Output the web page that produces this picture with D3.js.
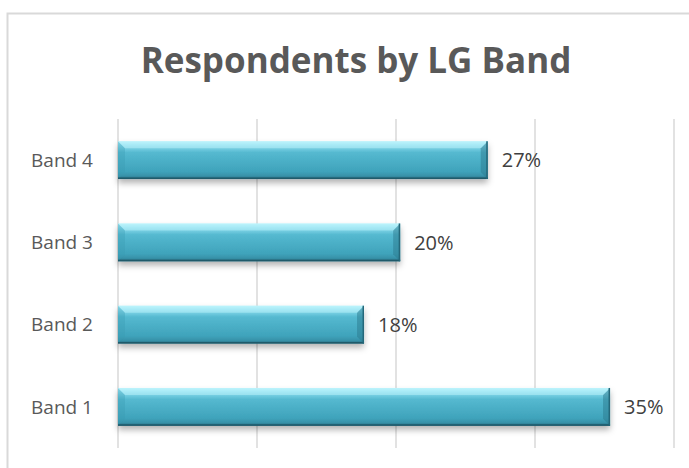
<!DOCTYPE html>
<head>
  <meta charset="utf-8">
  <script src="https://d3js.org/d3.v7.min.js"></script>
  <style>
    body { margin: 0; background: #fff; }
    svg { width: 689px; height: 468px; display: block; }
  </style>
</head>

<body>
  <svg></svg>

  <script>
    // data
    const bands = ['Band 4', 'Band 3', 'Band 2', 'Band 1'];
    const shares = [26.6, 20.3, 17.7, 35.4];
    const labels = ['27%', '20%', '18%', '35%'];
    const gridTicks = [0, 10, 20, 30, 40];

    const rows = bands.map((b, i) => ({ band: b, value: shares[i], label: labels[i] }));

    const svg = d3.select('svg');
    const font = '"Open Sans", Lato, sans-serif';

    // outer frame, cut off at right and bottom like the reference
    svg.append('rect')
      .attr('x', 7.5).attr('y', 13.5)
      .attr('width', 720).attr('height', 500)
      .attr('fill', '#fff')
      .attr('stroke', '#d9d9d9')
      .attr('stroke-width', 2);

    const x = d3.scaleLinear().domain([0, 40]).range([118, 674]);
    const y = d3.scaleBand().domain(bands).range([119, 448]).paddingInner(0.54).paddingOuter(0.27);

    // defs: bar gradient + shadow
    const defs = svg.append('defs');
    const grad = defs.append('linearGradient')
      .attr('id', 'barGrad').attr('x1', 0).attr('y1', 0).attr('x2', 0).attr('y2', 1);
    [[0, '#b6f2fb'], [0.1, '#8fdff0'], [0.3, '#55b9d0'], [0.8, '#3fa3bb'], [0.92, '#3791a8'], [1, '#26677a']]
      .forEach(s => grad.append('stop').attr('offset', s[0]).attr('stop-color', s[1]));

    const shadow = defs.append('filter').attr('id', 'shadow')
      .attr('x', '-5%').attr('y', '-20%').attr('width', '110%').attr('height', '170%');
    shadow.append('feDropShadow')
      .attr('dx', 0).attr('dy', 4).attr('stdDeviation', 3)
      .attr('flood-color', '#000').attr('flood-opacity', 0.3);

    // gridlines
    svg.append('g').selectAll('line')
      .data(gridTicks)
      .join('line')
      .attr('x1', d => x(d)).attr('x2', d => x(d))
      .attr('y1', 119).attr('y2', 448)
      .attr('stroke', '#d9d9d9')
      .attr('stroke-width', 1.5);

    // bars
    const bar = svg.append('g').selectAll('g')
      .data(rows)
      .join('g')
      .attr('transform', d => `translate(0,${y(d.band)})`);

    const bh = y.bandwidth();
    const bev = 7;

    bar.append('rect')
      .attr('x', x(0)).attr('y', 0)
      .attr('width', d => x(d.value) - x(0))
      .attr('height', bh)
      .attr('fill', 'url(#barGrad)')
      .attr('filter', 'url(#shadow)');

    // bevel faces: left, right, top
    bar.append('path')
      .attr('d', `M${x(0)},0 L${x(0) + bev},${bev} L${x(0) + bev},${bh - bev} L${x(0)},${bh} Z`)
      .attr('fill', '#3a9ab2').attr('opacity', 0.35);
    bar.append('path')
      .attr('d', d => {
        const r = x(d.value);
        return `M${r},0 L${r - bev},${bev} L${r - bev},${bh - bev} L${r},${bh} Z`;
      })
      .attr('fill', '#2b7a8e').attr('opacity', 0.5);
    bar.append('path')
      .attr('d', d => `M${x(0)},0 L${x(d.value)},0 L${x(d.value) - bev},${bev} L${x(0) + bev},${bev} Z`)
      .attr('fill', '#c6f6fd').attr('opacity', 0.45);
    bar.append('line')
      .attr('x1', x(0)).attr('x2', d => x(d.value))
      .attr('y1', bh - 0.75).attr('y2', bh - 0.75)
      .attr('stroke', '#1f5a6a').attr('stroke-width', 1.5);
    bar.append('line')
      .attr('x1', d => x(d.value) - 0.75).attr('x2', d => x(d.value) - 0.75)
      .attr('y1', 0).attr('y2', bh)
      .attr('stroke', '#24687a').attr('stroke-width', 1.5);

    // value labels
    bar.append('text')
      .attr('x', d => x(d.value) + 14)
      .attr('y', bh / 2)
      .attr('dy', '0.36em')
      .attr('font-family', font)
      .attr('font-size', 20)
      .attr('fill', '#404040')
      .text(d => d.label);

    // category labels
    svg.append('g').selectAll('text')
      .data(bands)
      .join('text')
      .attr('x', 93)
      .attr('y', d => y(d) + bh / 2)
      .attr('dy', '0.36em')
      .attr('text-anchor', 'end')
      .attr('font-family', font)
      .attr('font-size', 19)
      .attr('fill', '#595959')
      .text(d => d);

    // title
    svg.append('text')
      .attr('x', 356).attr('y', 73)
      .attr('text-anchor', 'middle')
      .attr('font-family', font)
      .attr('font-weight', 'bold')
      .attr('font-size', 35)
      .attr('fill', '#595959')
      .text('Respondents by LG Band');
  </script>
</body>
